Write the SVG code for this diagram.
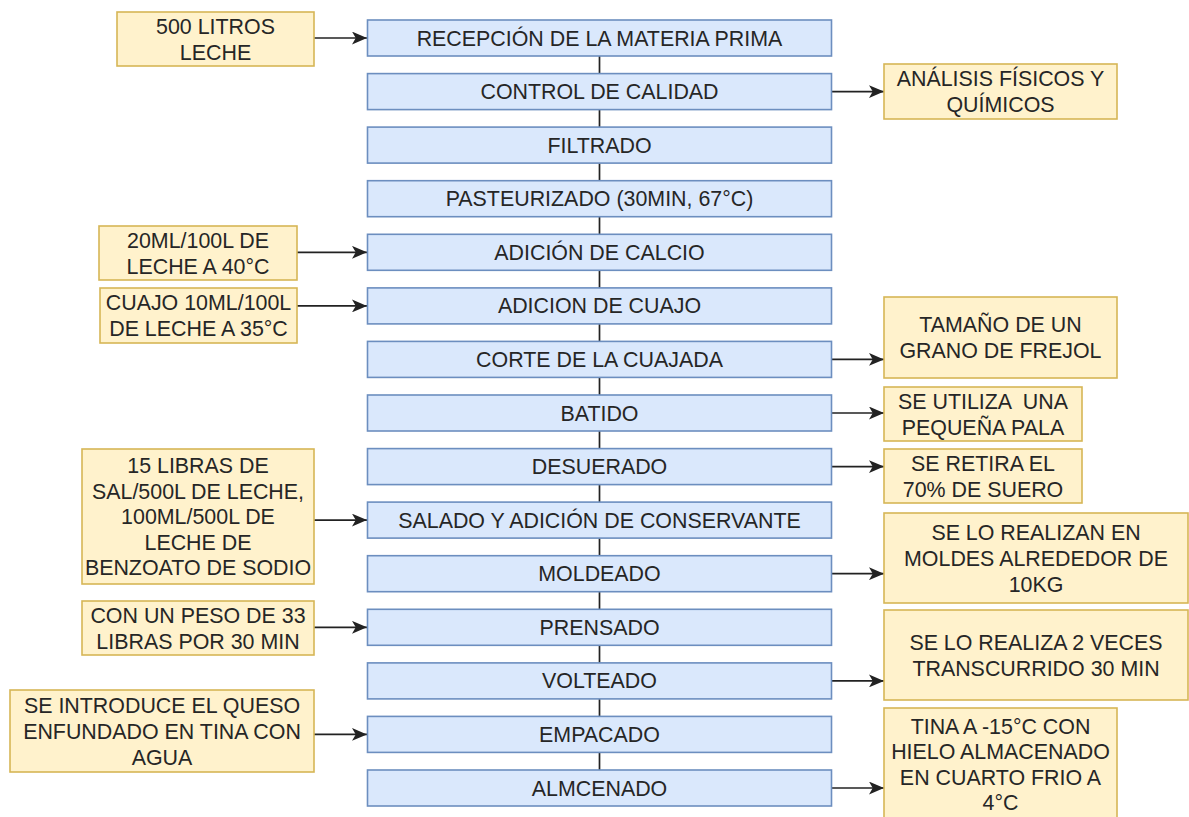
<svg xmlns="http://www.w3.org/2000/svg" width="1189" height="817" viewBox="0 0 1189 817">
<defs>
<style>
.step rect{fill:#dae8fc;stroke:#6c8ebf;stroke-width:1.6}
.note rect{fill:#fff2cc;stroke:#d6b656;stroke-width:1.6}
text{font-family:"Liberation Sans",Arial,sans-serif;font-size:21.4px;fill:#262626;text-anchor:middle;white-space:pre}
.conn line{stroke:#222;stroke-width:1.7;fill:none}
</style>
<marker id="arr" viewBox="0 0 14 12" refX="14" refY="6" markerWidth="15" markerHeight="13" markerUnits="userSpaceOnUse" orient="auto">
<path d="M0,0 L14,6 L0,12 L3.5,6 Z" fill="#222"/>
</marker>
</defs>
<rect width="1189" height="817" fill="#ffffff"/>

<g id="connectors" class="conn">
<line x1="599.5" y1="56" x2="599.5" y2="73.6"/>
<line x1="599.5" y1="109.6" x2="599.5" y2="127.1"/>
<line x1="599.5" y1="163.1" x2="599.5" y2="180.7"/>
<line x1="599.5" y1="216.7" x2="599.5" y2="234.3"/>
<line x1="599.5" y1="270.3" x2="599.5" y2="287.9"/>
<line x1="599.5" y1="323.9" x2="599.5" y2="341.4"/>
<line x1="599.5" y1="377.4" x2="599.5" y2="395"/>
<line x1="599.5" y1="431" x2="599.5" y2="448.6"/>
<line x1="599.5" y1="484.6" x2="599.5" y2="502.1"/>
<line x1="599.5" y1="538.1" x2="599.5" y2="555.7"/>
<line x1="599.5" y1="591.7" x2="599.5" y2="609.3"/>
<line x1="599.5" y1="645.3" x2="599.5" y2="662.9"/>
<line x1="599.5" y1="698.9" x2="599.5" y2="716.4"/>
<line x1="599.5" y1="752.4" x2="599.5" y2="770"/>
<line x1="314" y1="38" x2="367" y2="38" marker-end="url(#arr)"/>
<line x1="297" y1="252.3" x2="367" y2="252.3" marker-end="url(#arr)"/>
<line x1="297" y1="305.9" x2="367" y2="305.9" marker-end="url(#arr)"/>
<line x1="314" y1="520.1" x2="367" y2="520.1" marker-end="url(#arr)"/>
<line x1="314" y1="627.3" x2="367" y2="627.3" marker-end="url(#arr)"/>
<line x1="314" y1="734.4" x2="367" y2="734.4" marker-end="url(#arr)"/>
<line x1="831.7" y1="91.6" x2="884" y2="91.6" marker-end="url(#arr)"/>
<line x1="831.7" y1="359.4" x2="884" y2="359.4" marker-end="url(#arr)"/>
<line x1="831.7" y1="413" x2="884" y2="413" marker-end="url(#arr)"/>
<line x1="831.7" y1="466.6" x2="884" y2="466.6" marker-end="url(#arr)"/>
<line x1="831.7" y1="573.7" x2="884" y2="573.7" marker-end="url(#arr)"/>
<line x1="831.7" y1="680.9" x2="884" y2="680.9" marker-end="url(#arr)"/>
<line x1="831.7" y1="788" x2="884" y2="788" marker-end="url(#arr)"/>
</g>

<g id="s1" class="step"><rect x="367.5" y="20" width="464" height="36"/><text x="599.5" y="45.5">RECEPCIÓN DE LA MATERIA PRIMA</text></g>
<g id="s2" class="step"><rect x="367.5" y="73.6" width="464" height="36"/><text x="599.5" y="99.1">CONTROL DE CALIDAD</text></g>
<g id="s3" class="step"><rect x="367.5" y="127.1" width="464" height="36"/><text x="599.5" y="152.6">FILTRADO</text></g>
<g id="s4" class="step"><rect x="367.5" y="180.7" width="464" height="36"/><text x="599.5" y="206.2">PASTEURIZADO (30MIN, 67°C)</text></g>
<g id="s5" class="step"><rect x="367.5" y="234.3" width="464" height="36"/><text x="599.5" y="259.8">ADICIÓN DE CALCIO</text></g>
<g id="s6" class="step"><rect x="367.5" y="287.9" width="464" height="36"/><text x="599.5" y="313.4">ADICION DE CUAJO</text></g>
<g id="s7" class="step"><rect x="367.5" y="341.4" width="464" height="36"/><text x="599.5" y="366.9">CORTE DE LA CUAJADA</text></g>
<g id="s8" class="step"><rect x="367.5" y="395" width="464" height="36"/><text x="599.5" y="420.5">BATIDO</text></g>
<g id="s9" class="step"><rect x="367.5" y="448.6" width="464" height="36"/><text x="599.5" y="474.1">DESUERADO</text></g>
<g id="s10" class="step"><rect x="367.5" y="502.1" width="464" height="36"/><text x="599.5" y="527.6">SALADO Y ADICIÓN DE CONSERVANTE</text></g>
<g id="s11" class="step"><rect x="367.5" y="555.7" width="464" height="36"/><text x="599.5" y="581.2">MOLDEADO</text></g>
<g id="s12" class="step"><rect x="367.5" y="609.3" width="464" height="36"/><text x="599.5" y="634.8">PRENSADO</text></g>
<g id="s13" class="step"><rect x="367.5" y="662.9" width="464" height="36"/><text x="599.5" y="688.4">VOLTEADO</text></g>
<g id="s14" class="step"><rect x="367.5" y="716.4" width="464" height="36"/><text x="599.5" y="741.9">EMPACADO</text></g>
<g id="s15" class="step"><rect x="367.5" y="770" width="464" height="36"/><text x="599.5" y="795.5">ALMCENADO</text></g>

<g id="n1" class="note"><rect x="117" y="12" width="197" height="54"/><text x="215.5"><tspan x="215.5" y="33.5">500 LITROS</tspan><tspan x="215.5" y="59.5">LECHE</tspan></text></g>
<g id="n2" class="note"><rect x="99" y="226" width="198" height="54"/><text><tspan x="198" y="247.5">20ML/100L DE</tspan><tspan x="198" y="273.5">LECHE A 40°C</tspan></text></g>
<g id="n3" class="note"><rect x="100" y="288" width="197" height="55"/><text><tspan x="198.5" y="310">CUAJO 10ML/100L</tspan><tspan x="198.5" y="336">DE LECHE A 35°C</tspan></text></g>
<g id="n4" class="note"><rect x="82" y="449" width="232" height="135"/><text><tspan x="198" y="473">15 LIBRAS DE</tspan><tspan x="198" y="498.5">SAL/500L DE LECHE,</tspan><tspan x="198" y="524">100ML/500L DE</tspan><tspan x="198" y="549.5">LECHE DE</tspan><tspan x="198" y="575">BENZOATO DE SODIO</tspan></text></g>
<g id="n5" class="note"><rect x="82" y="601" width="232" height="54"/><text><tspan x="198" y="622.5">CON UN PESO DE 33</tspan><tspan x="198" y="648.5">LIBRAS POR 30 MIN</tspan></text></g>
<g id="n6" class="note"><rect x="10" y="690" width="304" height="82"/><text><tspan x="162" y="712.5">SE INTRODUCE EL QUESO</tspan><tspan x="162" y="738.5">ENFUNDADO EN TINA CON</tspan><tspan x="162" y="764.5">AGUA</tspan></text></g>

<g id="n7" class="note"><rect x="884" y="64" width="233" height="55"/><text><tspan x="1000.5" y="86">ANÁLISIS FÍSICOS Y</tspan><tspan x="1000.5" y="112">QUÍMICOS</tspan></text></g>
<g id="n8" class="note"><rect x="884" y="297" width="233" height="81"/><text><tspan x="1000.5" y="332">TAMAÑO DE UN</tspan><tspan x="1000.5" y="358">GRANO DE FREJOL</tspan></text></g>
<g id="n9" class="note"><rect x="884" y="387" width="198" height="54"/><text><tspan x="983" y="408.5">SE UTILIZA  UNA</tspan><tspan x="983" y="434.5">PEQUEÑA PALA</tspan></text></g>
<g id="n10" class="note"><rect x="884" y="449" width="198" height="54"/><text><tspan x="983" y="470.5">SE RETIRA EL</tspan><tspan x="983" y="496.5">70% DE SUERO</tspan></text></g>
<g id="n11" class="note"><rect x="884" y="513" width="304" height="90"/><text><tspan x="1036" y="539.5">SE LO REALIZAN EN</tspan><tspan x="1036" y="565.5">MOLDES ALREDEDOR DE</tspan><tspan x="1036" y="591.5">10KG</tspan></text></g>
<g id="n12" class="note"><rect x="884" y="610" width="304" height="90"/><text><tspan x="1036" y="649.5">SE LO REALIZA 2 VECES</tspan><tspan x="1036" y="675.5">TRANSCURRIDO 30 MIN</tspan></text></g>
<g id="n13" class="note"><rect x="884" y="708" width="233" height="112"/><text><tspan x="1000.5" y="733.5">TINA A -15°C CON</tspan><tspan x="1000.5" y="759">HIELO ALMACENADO</tspan><tspan x="1000.5" y="784.5">EN CUARTO FRIO A</tspan><tspan x="1000.5" y="810">4°C</tspan></text></g>
</svg>
